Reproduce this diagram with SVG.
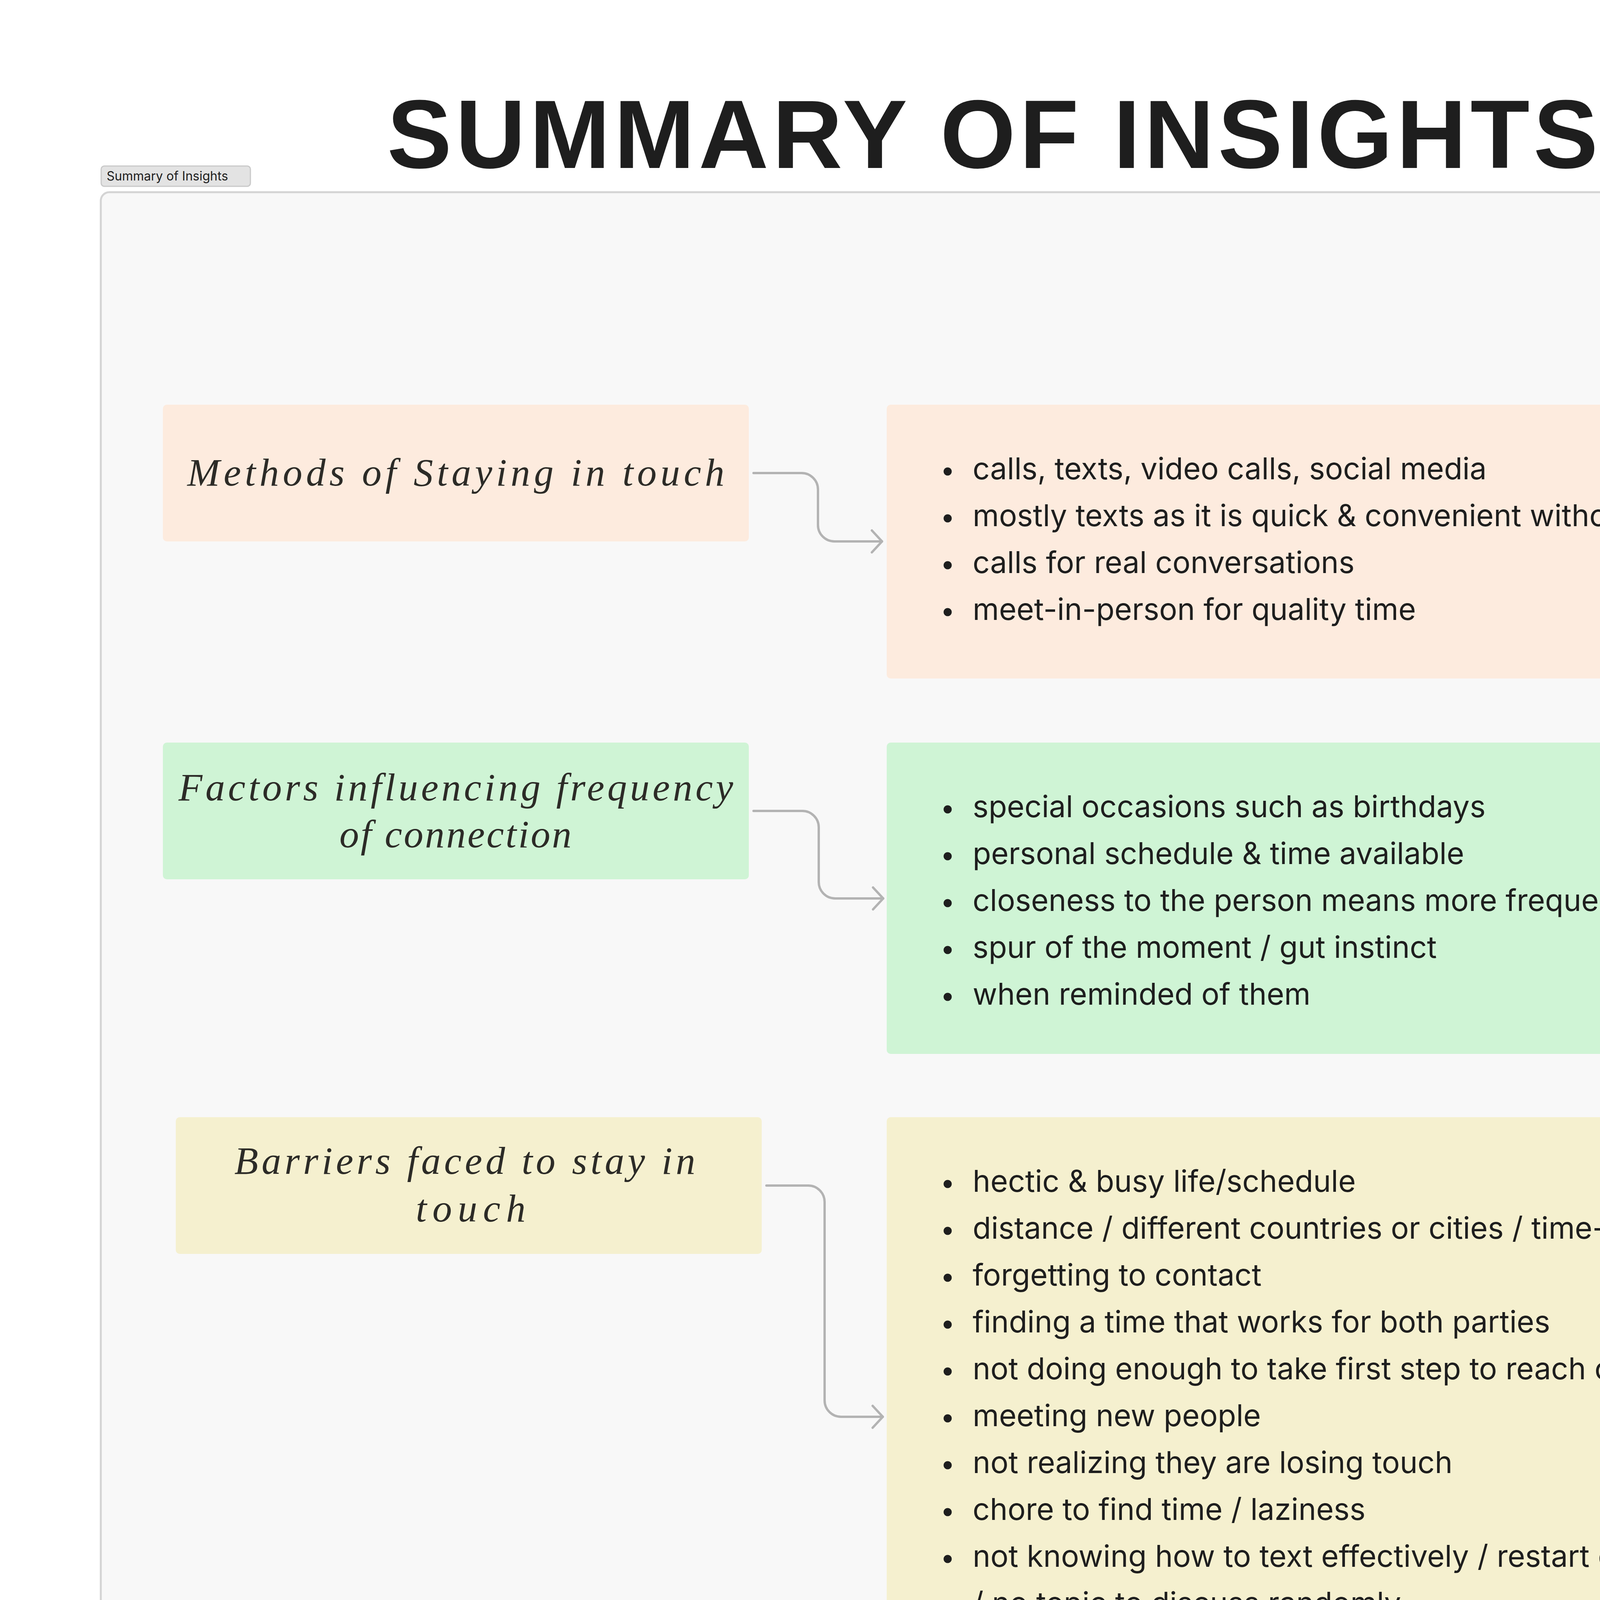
<svg xmlns="http://www.w3.org/2000/svg" width="5536" height="5804" viewBox="0 0 5536 5804">
<defs>
<style>
.bg{fill:#ffffff}
.frame{fill:#f8f8f8;stroke:#d4d4d4;stroke-width:5}
.tag{fill:#e3e3e3;stroke:#c9c9c9;stroke-width:3}
.tagtxt{font-family:Inter,"Liberation Sans",sans-serif;font-size:32px;fill:#1e1e1e}
.title{font-family:"Liberation Sans Narrow","Liberation Sans",Arial,sans-serif;font-weight:bold;font-size:248px;fill:#1e1e1e}
.lbl{font-family:"Liberation Serif","Times New Roman",serif;font-style:italic;font-size:100px;fill:#2c2b27;text-anchor:middle}
.item{font-family:Inter,"Liberation Sans",sans-serif;font-size:77px;fill:#1e1e1e}
.dot{fill:#1e1e1e}
.peach{fill:#fdebde}
.green{fill:#cff4d5}
.yellow{fill:#f5f0cf}
.cyan{fill:#dff7fd}
.conn{fill:none;stroke:#b3b3b3;stroke-width:6;stroke-linecap:round;stroke-linejoin:round}
</style>
<marker id="arr" markerUnits="userSpaceOnUse" markerWidth="80" markerHeight="80" viewBox="-40 -40 80 80" refX="0" refY="0" orient="auto">
<path d="M-26,-28 L0,0 L-26,28" fill="none" stroke="#b3b3b3" stroke-width="6" stroke-linecap="round" stroke-linejoin="round"/>
</marker>
</defs>
<rect class="bg" x="0" y="0" width="5536" height="5804"/>
<g id="title">
<text class="title" x="991" y="430" textLength="3100">SUMMARY OF INSIGHTS</text>
</g>
<g id="tag">
<rect class="tag" x="259" y="425" width="382" height="52" rx="8"/>
<text class="tagtxt" x="273" y="462">Summary of Insights</text>
</g>
<g id="frame">
<rect class="frame" x="258" y="492" width="5008" height="5050" rx="22"/>
</g>
<g id="connectors">
<path class="conn" marker-end="url(#arr)" d="M1929,1211 H2052 A42,42 0 0 1 2094,1253 V1344 A42,42 0 0 0 2136,1386 H2258"/>
<path class="conn" marker-end="url(#arr)" d="M1929,2076 H2054 A42,42 0 0 1 2096,2118 V2258 A42,42 0 0 0 2138,2300 H2261"/>
<path class="conn" marker-end="url(#arr)" d="M1962,3035 H2069 A42,42 0 0 1 2111,3077 V3585 A42,42 0 0 0 2153,3627 H2260"/>
<path class="conn" marker-end="url(#arr)" d="M1962,4733 H2069 A42,42 0 0 1 2111,4775 V4914 A42,42 0 0 0 2153,4956 H2260"/>
</g>
<g id="methods-label">
<rect class="peach" x="417" y="1036" width="1500" height="350" rx="10"/>
<text class="lbl" x="1167" y="1243" textLength="1375">Methods of Staying in touch</text>
</g>
<g id="methods-list">
<rect class="peach" x="2270" y="1036" width="2812" height="701" rx="10"/>
<circle class="dot" cx="2426" cy="1207" r="10.5"/>
<circle class="dot" cx="2426" cy="1327" r="10.5"/>
<circle class="dot" cx="2426" cy="1447" r="10.5"/>
<circle class="dot" cx="2426" cy="1567" r="10.5"/>
<text class="item" x="2490" y="1227">calls, texts, video calls, social media</text>
<text class="item" x="2490" y="1347">mostly texts as it is quick &amp; convenient without disrupting schedules</text>
<text class="item" x="2490" y="1467">calls for real conversations</text>
<text class="item" x="2490" y="1587">meet-in-person for quality time</text>
</g>
<g id="factors-label">
<rect class="green" x="417" y="1901" width="1500" height="350" rx="10"/>
<text class="lbl" x="1167" y="2049" textLength="1420">Factors influencing frequency</text>
<text class="lbl" x="1166" y="2169" textLength="594">of connection</text>
</g>
<g id="factors-list">
<rect class="green" x="2270" y="1901" width="2812" height="797" rx="10"/>
<circle class="dot" cx="2426" cy="2072" r="10.5"/>
<circle class="dot" cx="2426" cy="2192" r="10.5"/>
<circle class="dot" cx="2426" cy="2312" r="10.5"/>
<circle class="dot" cx="2426" cy="2432" r="10.5"/>
<circle class="dot" cx="2426" cy="2552" r="10.5"/>
<text class="item" x="2490" y="2092">special occasions such as birthdays</text>
<text class="item" x="2490" y="2212">personal schedule &amp; time available</text>
<text class="item" x="2490" y="2332">closeness to the person means more frequent contact</text>
<text class="item" x="2490" y="2452">spur of the moment / gut instinct</text>
<text class="item" x="2490" y="2572">when reminded of them</text>
</g>
<g id="barriers-label">
<rect class="yellow" x="450" y="2860" width="1500" height="350" rx="10"/>
<text class="lbl" x="1190" y="3005" textLength="1180">Barriers faced to stay in</text>
<text class="lbl" x="1205" y="3127" textLength="281">touch</text>
</g>
<g id="barriers-list">
<rect class="yellow" x="2270" y="2860" width="2812" height="1533" rx="10"/>
<circle class="dot" cx="2426" cy="3031" r="10.5"/>
<circle class="dot" cx="2426" cy="3151" r="10.5"/>
<circle class="dot" cx="2426" cy="3271" r="10.5"/>
<circle class="dot" cx="2426" cy="3391" r="10.5"/>
<circle class="dot" cx="2426" cy="3511" r="10.5"/>
<circle class="dot" cx="2426" cy="3631" r="10.5"/>
<circle class="dot" cx="2426" cy="3751" r="10.5"/>
<circle class="dot" cx="2426" cy="3871" r="10.5"/>
<circle class="dot" cx="2426" cy="3991" r="10.5"/>
<circle class="dot" cx="2426" cy="4231" r="10.5"/>
<text class="item" x="2490" y="3051">hectic &amp; busy life/schedule</text>
<text class="item" x="2490" y="3171">distance / different countries or cities / time-zones</text>
<text class="item" x="2490" y="3291">forgetting to contact</text>
<text class="item" x="2490" y="3411">finding a time that works for both parties</text>
<text class="item" x="2490" y="3531">not doing enough to take first step to reach out</text>
<text class="item" x="2490" y="3651">meeting new people</text>
<text class="item" x="2490" y="3771">not realizing they are losing touch</text>
<text class="item" x="2490" y="3891">chore to find time / laziness</text>
<text class="item" x="2490" y="4011">not knowing how to text effectively / restart conversation</text>
<text class="item" x="2388" y="4131">.</text>
<text class="item" x="2490" y="4131">/ no topic to discuss randomly</text>
<text class="item" x="2490" y="4251">scheduled calls falling through</text>
</g>
<g id="things-label">
<rect class="cyan" x="450" y="4558" width="1500" height="350" rx="10"/>
<text class="lbl" x="1200" y="4765" textLength="1073">Things that can help</text>
</g>
<g id="things-list">
<rect class="cyan" x="2270" y="4558" width="2812" height="797" rx="10"/>
<circle class="dot" cx="2426" cy="4729" r="10.5"/>
<circle class="dot" cx="2426" cy="4849" r="10.5"/>
<circle class="dot" cx="2426" cy="4969" r="10.5"/>
<circle class="dot" cx="2426" cy="5089" r="10.5"/>
<circle class="dot" cx="2426" cy="5209" r="10.5"/>
<text class="item" x="2490" y="4749">reminders to contact them at a frequency / calendar scheduling</text>
<text class="item" x="2490" y="4869">nostalgic pop ups of memory/ posts/ texts as conversation starter</text>
<text class="item" x="2490" y="4989">“free for a chat?” ping</text>
<text class="item" x="2490" y="5109">time-zone based scheduling</text>
<text class="item" x="2490" y="5229">scheduler for both parties on common availability + less formal</text>
</g>
</svg>
